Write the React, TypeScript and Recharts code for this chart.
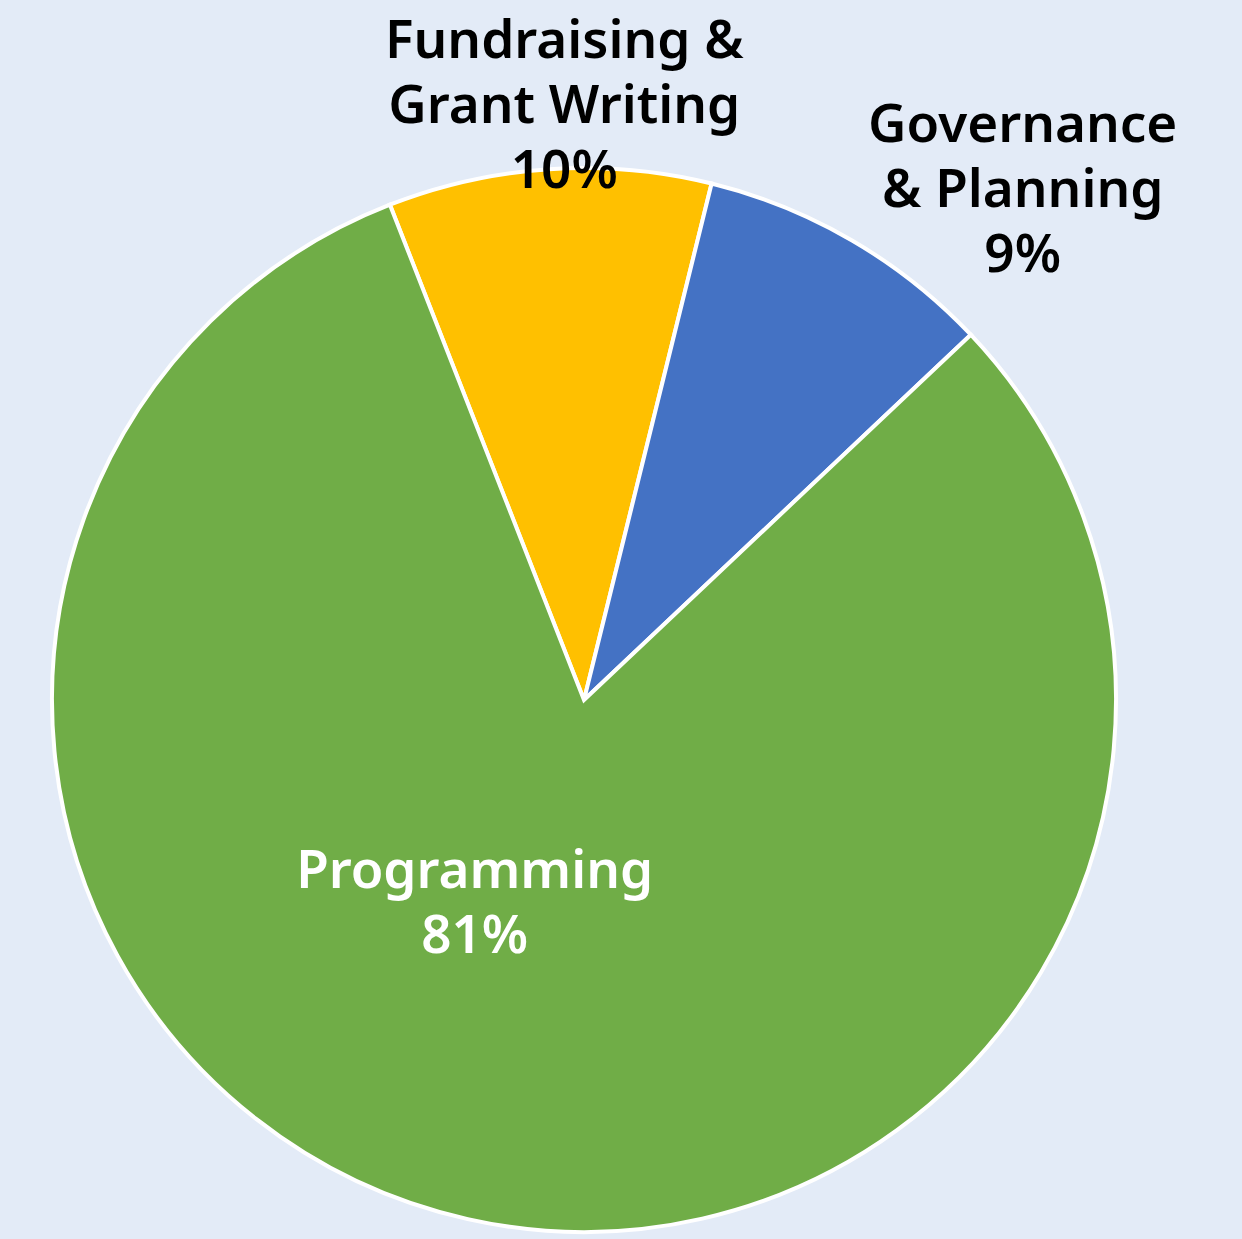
import { PieChart, Pie, Cell } from "recharts"

const CATEGORIES = ["Fundraising & Grant Writing", "Governance & Planning", "Programming"]
const LABEL_LINES = [["Fundraising &", "Grant Writing"], ["Governance", "& Planning"], ["Programming"]]
const SHARES = [9.8, 9.1, 81.1]
const COLORS = ["#FFC000", "#4472C4", "#70AD47"]
const LABEL_COLORS = ["#000000", "#000000", "#ffffff"]

// where each label sits: radius factor along the slice middle, then a nudge
const LABEL_RADIUS = [1.11, 1.2, 0.45]
const LABEL_NUDGE = [
  [19, -8],
  [117, 38],
  [-57, -34],
]

const RADIAN = Math.PI / 180
const LINE_H = 65

const data = CATEGORIES.map((name, i) => ({ name, value: SHARES[i] }))

function renderLabel(props: any) {
  const { cx, cy, midAngle, outerRadius, percent, index } = props
  const r = outerRadius * LABEL_RADIUS[index]
  const x = cx + r * Math.cos(-midAngle * RADIAN) + LABEL_NUDGE[index][0]
  const y = cy + r * Math.sin(-midAngle * RADIAN) + LABEL_NUDGE[index][1]
  const lines = [...LABEL_LINES[index], `${Math.round(percent * 100)}%`]
  const top = y - ((lines.length - 1) / 2) * LINE_H
  return (
    <text
      key={`label-${index}`}
      x={x}
      y={y}
      textAnchor="middle"
      fill={LABEL_COLORS[index]}
      fontFamily="'Noto Sans', sans-serif"
      fontSize={53}
      fontWeight={600}
    >
      {lines.map((line, i) => (
        <tspan key={i} x={x} y={top + i * LINE_H} dominantBaseline="central">
          {line}
        </tspan>
      ))}
    </text>
  )
}

export default function App() {
  return (
    <div style={{ position: "absolute", left: 0, top: 0, width: 1242, height: 1239, background: "#E3EBF7" }}>
      <PieChart width={1242} height={1239} margin={{ top: 0, right: 0, bottom: 0, left: 0 }}>
        <Pie
          data={data}
          dataKey="value"
          cx={584}
          cy={700}
          outerRadius={532}
          startAngle={111.4}
          endAngle={111.4 - 360}
          stroke="#ffffff"
          strokeWidth={4}
          labelLine={false}
          label={renderLabel}
          isAnimationActive={false}
        >
          {data.map((entry, index) => (
            <Cell key={`cell-${index}`} fill={COLORS[index]} />
          ))}
        </Pie>
      </PieChart>
    </div>
  )
}
